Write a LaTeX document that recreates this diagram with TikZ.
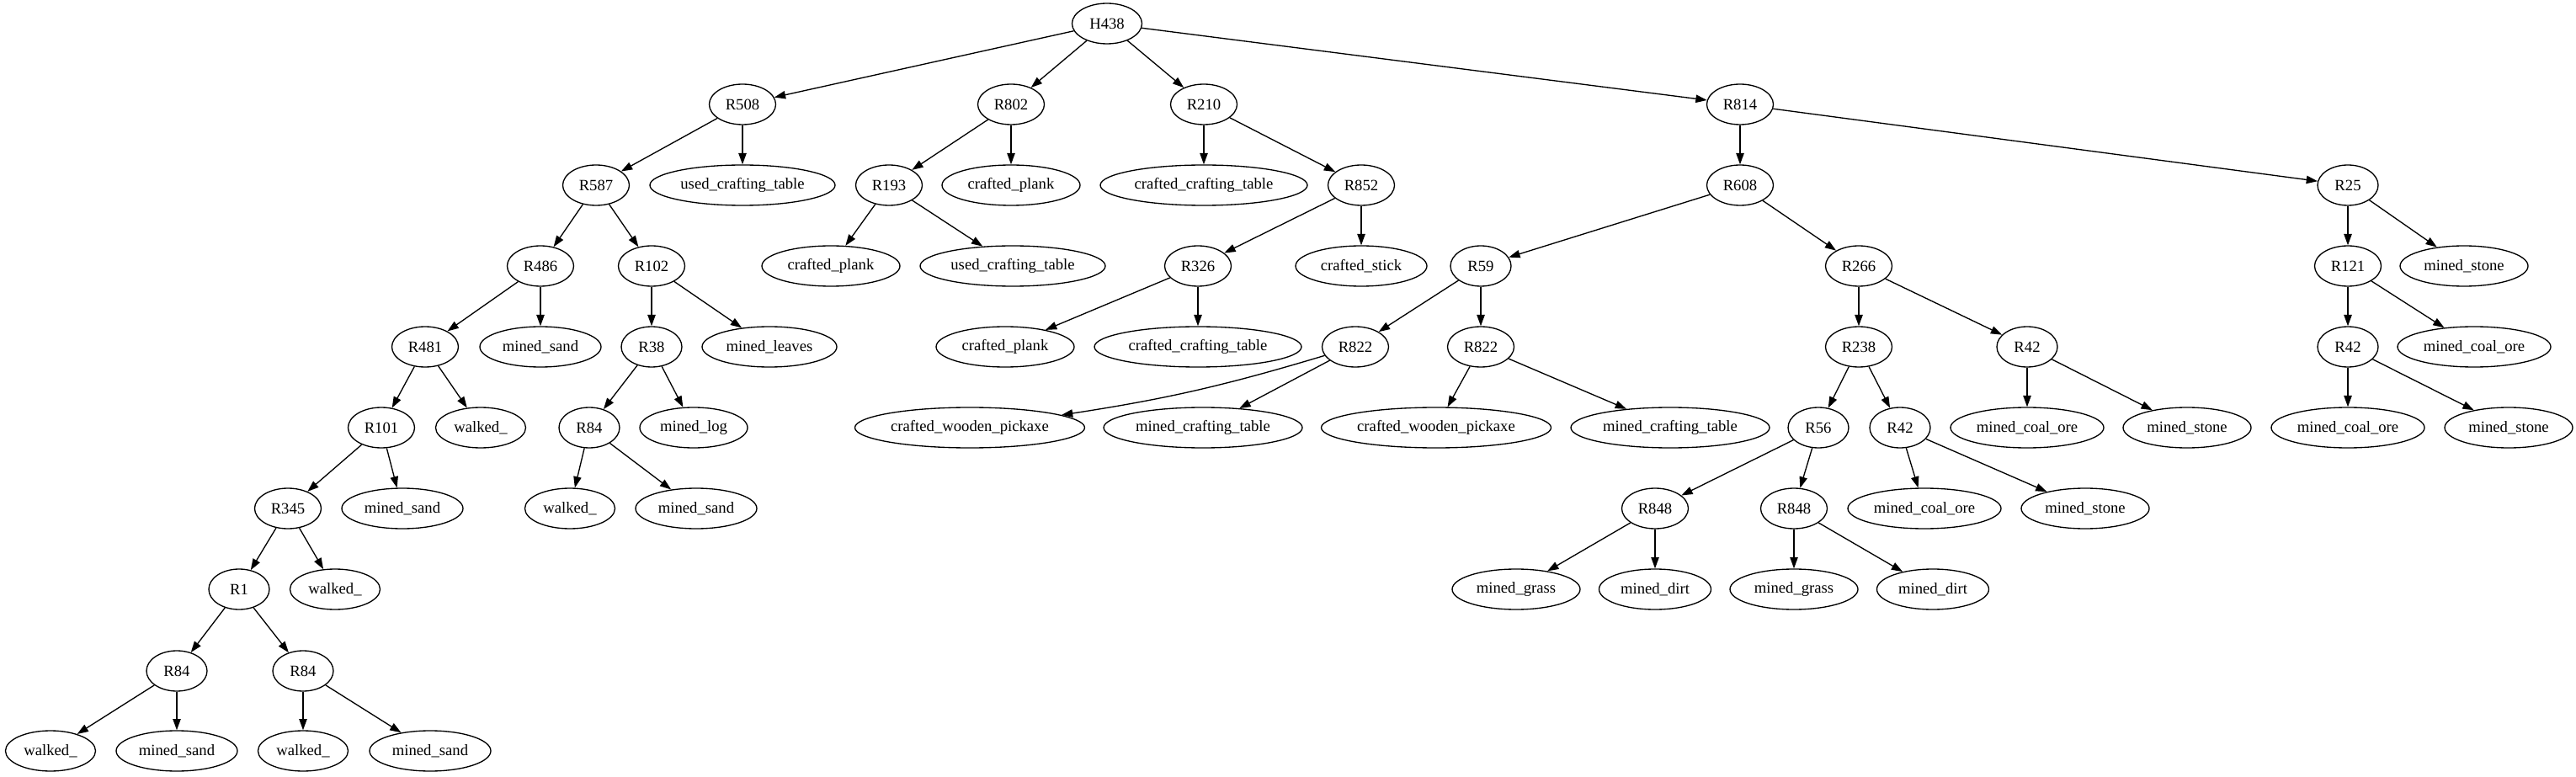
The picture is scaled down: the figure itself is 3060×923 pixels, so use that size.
\documentclass[tikz,border=0pt]{standalone}
\usepackage{fontspec}
\setmainfont{Liberation Serif}
\usetikzlibrary{shapes.geometric,arrows.meta}
\tikzset{
  nd/.style={draw, ellipse, line width=1pt, inner sep=0pt, minimum height=36pt, font=\fontsize{14}{16}\selectfont},
  wd/.style={minimum width=#1*0.75pt},
  arr/.style={-{Triangle[length=10pt,width=7pt]}, line width=1pt}
}
\begin{document}
\begin{tikzpicture}[x=0.75pt,y=-0.75pt]
\useasboundingbox (0,0) rectangle (3060,923);
% row 0
\node[nd,wd=83] (h438) at (1315,28) {H438};
% row 1
\node[nd,wd=79] (r508) at (882,124) {R508};
\node[nd,wd=79] (r802) at (1201,124) {R802};
\node[nd,wd=79] (r210) at (1430,124) {R210};
\node[nd,wd=79] (r814) at (2067,124) {R814};
% row 2
\node[nd,wd=79] (r587) at (708,220) {R587};
\node[nd,wd=220] (uct1) at (882,220) {used\_crafting\_table};
\node[nd,wd=79] (r193) at (1056,220) {R193};
\node[nd,wd=164] (cp1) at (1201,220) {crafted\_plank};
\node[nd,wd=246] (cct1) at (1430,220) {crafted\_crafting\_table};
\node[nd,wd=79] (r852) at (1617,220) {R852};
\node[nd,wd=79] (r608) at (2067,220) {R608};
\node[nd,wd=72] (r25) at (2789,220) {R25};
% row 3
\node[nd,wd=79] (r486) at (642,316) {R486};
\node[nd,wd=79] (r102) at (774,316) {R102};
\node[nd,wd=164] (cp2) at (987,316) {crafted\_plank};
\node[nd,wd=220] (uct2) at (1203,316) {used\_crafting\_table};
\node[nd,wd=79] (r326) at (1423,316) {R326};
\node[nd,wd=156] (cs) at (1617,316) {crafted\_stick};
\node[nd,wd=72] (r59) at (1759,316) {R59};
\node[nd,wd=79] (r266) at (2208,316) {R266};
\node[nd,wd=79] (r121) at (2789,316) {R121};
\node[nd,wd=152] (ms1) at (2927,316) {mined\_stone};
% row 4
\node[nd,wd=79] (r481) at (505,412) {R481};
\node[nd,wd=144] (msand1) at (642,412) {mined\_sand};
\node[nd,wd=72] (r38) at (774,412) {R38};
\node[nd,wd=160] (ml) at (914,412) {mined\_leaves};
\node[nd,wd=164] (cp3) at (1194,412) {crafted\_plank};
\node[nd,wd=246] (cct2) at (1423,412) {crafted\_crafting\_table};
\node[nd,wd=79] (r822a) at (1610,412) {R822};
\node[nd,wd=79] (r822b) at (1759,412) {R822};
\node[nd,wd=79] (r238) at (2208,412) {R238};
\node[nd,wd=72] (r42a) at (2408,412) {R42};
\node[nd,wd=72] (r42c) at (2789,412) {R42};
\node[nd,wd=182] (mco1) at (2939,412) {mined\_coal\_ore};
% row 5
\node[nd,wd=79] (r101) at (453,508) {R101};
\node[nd,wd=107] (wk1) at (571,508) {walked\_};
\node[nd,wd=72] (r84c) at (700,508) {R84};
\node[nd,wd=128] (mlog) at (824,508) {mined\_log};
\node[nd,wd=273] (cwp1) at (1152,508) {crafted\_wooden\_pickaxe};
\node[nd,wd=236] (mct1) at (1429,508) {mined\_crafting\_table};
\node[nd,wd=273] (cwp2) at (1706,508) {crafted\_wooden\_pickaxe};
\node[nd,wd=236] (mct2) at (1984,508) {mined\_crafting\_table};
\node[nd,wd=72] (r56) at (2160,508) {R56};
\node[nd,wd=72] (r42b) at (2257,508) {R42};
\node[nd,wd=182] (mco2) at (2408,508) {mined\_coal\_ore};
\node[nd,wd=152] (ms2) at (2598,508) {mined\_stone};
\node[nd,wd=182] (mco3) at (2789,508) {mined\_coal\_ore};
\node[nd,wd=152] (ms3) at (2980,508) {mined\_stone};
% row 6
\node[nd,wd=79] (r345) at (342,604) {R345};
\node[nd,wd=144] (msand2) at (478,604) {mined\_sand};
\node[nd,wd=107] (wk2) at (677,604) {walked\_};
\node[nd,wd=144] (msand3) at (827,604) {mined\_sand};
\node[nd,wd=79] (r848a) at (1966,604) {R848};
\node[nd,wd=79] (r848b) at (2131,604) {R848};
\node[nd,wd=182] (mco4) at (2286,604) {mined\_coal\_ore};
\node[nd,wd=152] (ms4) at (2477,604) {mined\_stone};
% row 7
\node[nd,wd=72] (r1) at (284,700) {R1};
\node[nd,wd=107] (wk3) at (398,700) {walked\_};
\node[nd,wd=152] (mg1) at (1801,700) {mined\_grass};
\node[nd,wd=133] (md1) at (1966,700) {mined\_dirt};
\node[nd,wd=152] (mg2) at (2131,700) {mined\_grass};
\node[nd,wd=133] (md2) at (2296,700) {mined\_dirt};
% row 8
\node[nd,wd=72] (r84a) at (210,797) {R84};
\node[nd,wd=72] (r84b) at (360,797) {R84};
% row 9
\node[nd,wd=107] (wk4) at (60,892) {walked\_};
\node[nd,wd=144] (msand4) at (210,892) {mined\_sand};
\node[nd,wd=107] (wk5) at (360,892) {walked\_};
\node[nd,wd=144] (msand5) at (511,892) {mined\_sand};
% edges
\foreach \a/\b in {h438/r508,h438/r802,h438/r210,h438/r814,
  r508/r587,r508/uct1,r587/r486,r587/r102,r486/r481,r486/msand1,
  r481/r101,r481/wk1,r101/r345,r101/msand2,r345/r1,r345/wk3,
  r1/r84a,r1/r84b,r84a/wk4,r84a/msand4,r84b/wk5,r84b/msand5,
  r102/r38,r102/ml,r38/r84c,r38/mlog,r84c/wk2,r84c/msand3,
  r802/r193,r802/cp1,r193/cp2,r193/uct2,
  r210/cct1,r210/r852,r852/r326,r852/cs,r326/cp3,r326/cct2,
  r814/r608,r814/r25,r608/r59,r608/r266,r59/r822a,r59/r822b,
  r822a/mct1,r822b/cwp2,r822b/mct2,
  r266/r238,r266/r42a,r238/r56,r238/r42b,r56/r848a,r56/r848b,
  r848a/mg1,r848a/md1,r848b/mg2,r848b/md2,
  r42b/mco4,r42b/ms4,r42a/mco2,r42a/ms2,
  r25/r121,r25/ms1,r121/r42c,r121/mco1,r42c/mco3,r42c/ms3}
  \draw[arr] (\a) -- (\b);
\draw[arr] (r822a) to[bend left=4] (cwp1);
\end{tikzpicture}
\end{document}
